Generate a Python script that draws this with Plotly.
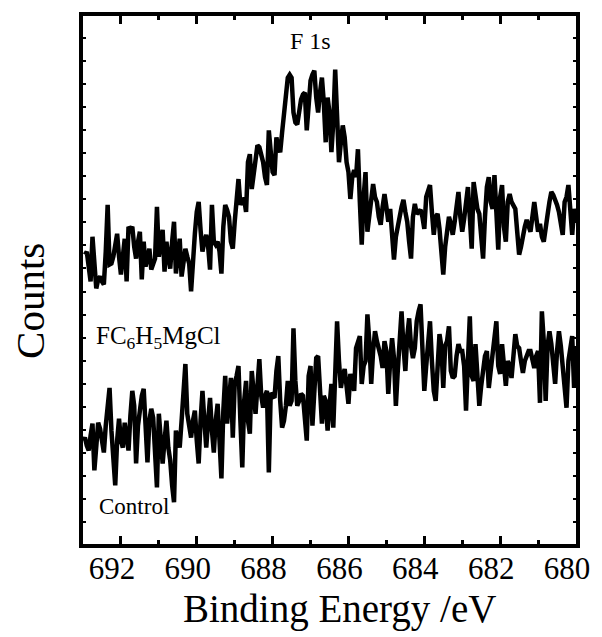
import numpy as np
import plotly.graph_objects as go

# Binding-energy sampling grid (eV), high to low
be_start, be_step, n_pts = 693.0, 0.05, 261
energy = np.round(be_start - be_step * np.arange(n_pts), 2)

# F 1s region, FC6H5MgCl-treated sample (starts one step in)
counts_fc6h5mgcl = [
    2910, 2940, 2790, 2640, 3090, 2820, 2570, 2660, 2690,
    2640, 2610, 2940, 3410, 2810, 2820, 2890, 3040, 3120, 2890,
    2710, 2890, 3070, 2640, 3190, 3160, 3190, 2990, 2870, 3040,
    3140, 2660, 3040, 2790, 2890, 2970, 2760, 2820, 2870, 3390,
    2890, 3040, 3160, 2740, 3040, 2890, 2770, 3040, 3240, 2720,
    2940, 3070, 2690, 2820, 2970, 2890, 2820, 2540, 2890, 3120,
    3340, 3440, 3160, 2940, 3040, 3110, 2990, 2760, 3410, 3040,
    3010, 3040, 2940, 2720, 3190, 3410, 3360, 3290, 3040, 2970,
    3240, 3440, 3670, 3410, 3460, 3470, 3340, 3840, 3920, 3570,
    3740, 3840, 4010, 3990, 3920, 3840, 3690, 3610, 4160, 3890,
    3740, 3710, 4090, 3990, 3940, 4140, 4340, 4470, 4690, 4720,
    4690, 4340, 4240, 4220, 4390, 4470, 4520, 4540, 4160, 4440,
    4660, 4720, 4760, 4490, 4340, 4540, 4690, 4440, 4040, 4490,
    4340, 3940, 4240, 4770, 4340, 3840, 4040, 4210, 4090, 3840,
    3740, 3470, 3690, 3760, 3690, 3970, 3440, 3010, 3490, 3740,
    3140, 3340, 3440, 3620, 3490, 3440, 3290, 3210, 3390, 3520,
    3390, 3240, 3370, 3040, 2860, 3090, 3170, 3290, 3390, 3460,
    3340, 3240, 3040, 2870, 3290, 3420, 3320, 3340, 3360, 3290,
    3170, 3490, 3560, 3610, 3340, 3110, 3290, 3320, 3170, 2940,
    2710, 2990, 3110, 3290, 3220, 3110, 3240, 3440, 3540, 3290,
    3140, 3270, 3440, 3590, 3290, 2970, 3640, 3490, 3370, 3320,
    3140, 2870, 3290, 3590, 3690, 3440, 3370, 3710, 3340, 2960,
    3490, 3610, 3190, 3040, 3440, 3520, 3440, 3390, 3370, 3140,
    2910, 2990, 3120, 3190, 3260, 3190, 3140, 3290, 3440, 3290,
    3140, 3220, 3090, 3040, 3220, 3310, 3440, 3540, 3510, 3470,
    3410, 3340, 3190, 3110, 3440, 3490, 3610, 3290, 3110, 3370, 3240,
]

# F 1s region, untreated control
counts_control = [
    1040, 1070, 990, 940, 1090, 1210, 740, 1040, 1220, 1160,
    1040, 920, 1190, 1340, 1570, 1140, 890, 590, 1040, 1260,
    1040, 970, 1220, 1090, 940, 1290, 1540, 1390, 810, 1190,
    1370, 1490, 1560, 1140, 820, 1240, 1360, 1270, 890, 570,
    1310, 1070, 810, 1040, 1240, 970, 840, 590, 420, 1140,
    1040, 970, 1240, 1490, 1810, 1310, 1190, 1070, 1240, 1340,
    1040, 810, 1240, 1540, 1240, 970, 1240, 1470, 1140, 920,
    1240, 1410, 1040, 660, 1340, 1690, 1210, 1440, 1670, 1070,
    1610, 1690, 1790, 1240, 770, 1440, 1640, 1240, 1110, 1740,
    1490, 1310, 1590, 1860, 1490, 1370, 1490, 1540, 720, 1520,
    1490, 1470, 1740, 1890, 1440, 1170, 1240, 1390, 1640, 1390,
    1440, 2170, 1640, 1390, 1440, 1510, 1490, 1290, 1040, 1690,
    1790, 1190, 1590, 1870, 1890, 1540, 1210, 1490, 1440, 1140,
    1440, 1610, 1170, 1640, 2240, 1840, 1570, 1690, 1760, 1590,
    1410, 1710, 1590, 1540, 1970, 2040, 2090, 1610, 1790, 1840,
    2310, 2040, 1610, 1940, 2140, 2040, 1970, 1890, 1770, 2040,
    1940, 1510, 1840, 2070, 1870, 1390, 1740, 2040, 2340, 1990,
    1740, 2090, 2270, 1990, 1870, 1970, 2240, 2340, 2410, 1970,
    1540, 1790, 2040, 2240, 1840, 1540, 1440, 1840, 2110, 1990,
    1570, 1990, 2040, 2190, 1740, 1670, 1690, 1890, 2010, 1940,
    1940, 1790, 1340, 1840, 2290, 1690, 1640, 2010, 1690, 1390,
    1590, 1770, 1890, 1940, 1570, 1740, 1910, 2090, 2240, 1790,
    1710, 2010, 1840, 1590, 1840, 1790, 1670, 1840, 2110, 1990,
    1970, 1840, 1720, 1840, 1890, 1940, 1940, 1840, 1770, 1890,
    1940, 1420, 2340, 2040, 1440, 1990, 2140, 2010, 1840, 1610,
    1940, 2140, 1990, 1740, 1490, 1370, 1840, 1940, 2090, 1570, 1990,
]

x_ticks = [692, 690, 688, 686, 684, 682, 680]

SERIF = "Liberation Serif"
line_style = dict(color="black", width=4.5)

fig = go.Figure()
fig.add_trace(go.Scatter(x=energy[1:], y=counts_fc6h5mgcl, mode="lines",
                         line=line_style, showlegend=False))
fig.add_trace(go.Scatter(x=energy, y=counts_control, mode="lines",
                         line=line_style, showlegend=False))

fig.update_xaxes(
    range=[693, 680], tickvals=x_ticks, ticktext=[str(v) for v in x_ticks],
    ticks="inside", ticklen=8, tickwidth=3, tickcolor="black",
    minor=dict(dtick=1, tick0=680, ticks="inside", ticklen=4, tickwidth=3, tickcolor="black"),
    showline=True, linewidth=4, linecolor="black", mirror="ticks",
    showgrid=False, zeroline=False,
    tickfont=dict(family=SERIF, size=31, color="black"),
    ticklabelshift=9, ticklabelstandoff=-6,
)
fig.update_yaxes(
    range=[0, 5310], tick0=220, dtick=231.9, showticklabels=False,
    ticks="inside", ticklen=3, tickwidth=2, tickcolor="black",
    showline=True, linewidth=4, linecolor="black", mirror="ticks",
    showgrid=False, zeroline=False,
)

fig.add_annotation(x=687.0, y=5060, text="F 1s", showarrow=False,
                   font=dict(family=SERIF, size=24, color="black"))
fig.add_annotation(x=692.7, y=2080, xanchor="left", showarrow=False,
                   text="FC<sub>6</sub>H<sub>5</sub>MgCl",
                   font=dict(family=SERIF, size=25, color="black"))
fig.add_annotation(x=692.62, y=380, xanchor="left", showarrow=False,
                   text="Control",
                   font=dict(family=SERIF, size=23, color="black"))
fig.add_annotation(xref="paper", yref="paper", x=-0.1064, y=0.4595,
                   xanchor="center", yanchor="middle", textangle=-90,
                   text="Counts", showarrow=False,
                   font=dict(family=SERIF, size=41, color="black"))
fig.add_annotation(xref="paper", yref="paper", x=0.521, y=-0.124,
                   xanchor="center", yanchor="middle",
                   text="Binding Energy /eV", showarrow=False,
                   font=dict(family=SERIF, size=39, color="black"))

fig.update_layout(
    width=602, height=637,
    margin=dict(l=83, r=21, t=13, b=93),
    paper_bgcolor="white", plot_bgcolor="white",
)

fig.write_html("out.html")
